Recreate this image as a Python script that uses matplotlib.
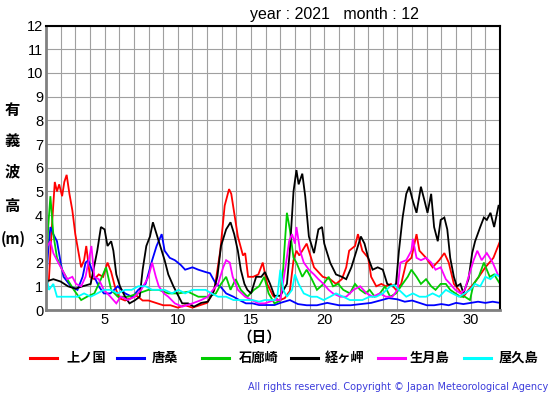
import numpy as np
import matplotlib
matplotlib.use("Agg")
import matplotlib.pyplot as plt
from matplotlib.lines import Line2D

# ---- data (day of month, significant wave height m) ----
stations = ["上ノ国", "唐桑", "石廊崎", "経ヶ岬", "生月島", "屋久島"]
colors = ["#ff0000", "#0000ff", "#00cc00", "#000000", "#ff00ff", "#00ffff"]

red_pts = [(1.0,1.0),(1.2,1.3),(1.4,3.5),(1.6,5.4),(1.75,5.0),(1.9,5.3),(2.1,4.8),(2.25,5.4),(2.41,5.7),
           (2.6,4.9),(2.8,4.2),(3.0,3.2),(3.2,2.5),(3.4,1.8),(3.6,2.1),(3.75,2.7),(4.0,1.4),(4.3,1.3),
           (4.6,1.5),(4.9,1.4),(5.2,2.0),(5.45,1.6),(5.7,1.0),(6.0,0.5),(6.4,0.4),(6.8,0.5),(7.2,0.6),
           (7.6,0.4),(8.0,0.4),(8.5,0.3),(9.0,0.2),(9.5,0.2),(10.0,0.1),(10.5,0.2),(11.0,0.1),(11.5,0.2),
           (12.0,0.3),(12.5,0.85),(12.9,2.5),(13.2,4.4),(13.5,5.1),(13.65,4.9),(13.9,3.9),(14.1,3.1),
           (14.45,2.3),(14.6,2.4),(14.8,1.4),(15.15,1.4),(15.5,1.5),(15.8,2.0),(16.1,1.1),(16.5,0.6),
           (16.9,0.4),(17.3,0.5),(17.65,0.8),(17.9,2.1),(18.1,2.5),(18.3,2.3),(18.5,2.5),(18.8,2.8),
           (19.3,1.8),(19.9,1.4),(20.4,1.3),(20.8,1.1),(21.2,1.3),(21.5,1.8),(21.7,2.5),(22.1,2.7),
           (22.3,3.2),(22.6,2.5),(23.0,2.2),(23.2,1.4),(23.55,1.0),(23.9,1.1),(24.2,1.0),(24.55,1.1),
           (24.9,0.85),(25.25,1.1),(25.6,2.0),(25.95,2.2),(26.3,3.2),(26.5,2.5),(26.95,2.2),(27.4,1.8),
           (27.85,2.1),(28.2,2.4),(28.5,2.0),(28.85,1.1),(29.2,0.85),(29.5,0.56),(29.85,0.85),(30.2,1.1),
           (30.55,1.4),(31.0,1.8),(31.55,2.2),(32.0,2.9)]

blue_pts = [(1.0,1.1),(1.15,2.5),(1.3,3.5),(1.5,3.2),(1.75,2.9),(2.0,2.0),(2.2,1.4),(2.45,1.2),(2.7,1.0),
            (3.15,0.85),(3.5,1.4),(3.7,2.0),(3.9,2.1),(4.3,1.4),(4.6,1.0),(4.95,0.7),(5.4,0.7),(5.9,1.0),
            (6.4,0.7),(6.9,0.55),(7.3,0.85),(7.8,1.1),(8.25,2.1),(8.55,2.7),(8.9,3.2),(9.1,2.5),(9.45,2.2),
            (9.8,2.1),(10.2,1.9),(10.5,1.7),(11.0,1.8),(11.4,1.7),(11.9,1.6),(12.2,1.55),(12.6,1.1),
            (12.9,1.0),(13.3,0.7),(13.8,0.56),(14.2,0.42),(14.65,0.28),(15.1,0.28),(15.55,0.21),(16.0,0.21),
            (16.6,0.21),(17.0,0.3),(17.65,0.42),(18.2,0.25),(18.8,0.2),(19.5,0.2),(20.2,0.3),(21.0,0.2),
            (21.8,0.2),(22.5,0.25),(23.2,0.3),(23.8,0.4),(24.4,0.5),(25.0,0.45),(25.5,0.35),(26.0,0.4),
            (26.5,0.3),(27.0,0.2),(27.5,0.2),(28.0,0.25),(28.5,0.2),(29.0,0.3),(29.5,0.25),(30.0,0.3),
            (30.5,0.35),(31.0,0.3),(31.5,0.35),(32.0,0.3)]

green_pts = [(1.0,1.5),(1.15,3.5),(1.3,4.8),(1.5,3.2),(1.75,2.2),(2.1,1.7),(2.45,1.3),(2.9,0.85),(3.4,0.42),
             (3.8,0.56),(4.3,0.7),(4.75,1.3),(5.1,1.8),(5.45,0.85),(5.9,0.56),(6.6,0.56),(7.3,0.7),(8.0,0.85),
             (8.7,0.85),(9.35,0.7),(10.05,0.7),(10.7,0.77),(11.4,0.56),(12.1,0.56),(12.6,0.7),(12.95,1.1),
             (13.3,1.4),(13.6,0.85),(13.95,1.3),(14.3,0.85),(14.75,0.56),(15.2,0.85),(15.55,1.0),(15.9,1.4),
             (16.2,0.7),(16.6,0.28),(17.0,0.4),(17.2,1.8),(17.35,3.2),(17.45,4.1),(17.65,3.4),(17.9,2.2),
             (18.1,2.0),(18.5,1.4),(18.8,1.7),(19.15,1.3),(19.5,0.85),(19.95,1.1),(20.3,1.4),(20.6,1.0),
             (20.95,1.1),(21.3,0.85),(21.75,0.7),(22.1,1.1),(22.45,0.85),(22.8,0.7),(23.1,0.85),(23.45,0.56),
             (23.8,0.7),(24.15,1.0),(24.5,0.56),(24.9,0.7),(25.35,1.1),(25.7,1.4),(25.95,1.7),(26.3,1.4),
             (26.6,1.1),(26.95,1.3),(27.3,1.0),(27.6,0.85),(27.95,1.1),(28.3,1.1),(28.6,0.85),(28.95,0.7),
             (29.3,0.56),(29.6,0.56),(29.95,0.42),(30.2,1.1),(30.55,1.4),(30.9,2.0),(31.3,1.4),(31.6,1.5),
             (32.0,1.1)]

black_pts = [(1.0,1.2),(1.5,1.3),(2.0,1.2),(2.5,1.0),(3.0,0.9),(3.5,1.0),(4.05,1.1),(4.5,2.5),(4.75,3.5),
             (5.0,3.4),(5.2,2.7),(5.45,2.9),(5.6,2.5),(5.8,1.5),(6.05,1.0),(6.4,0.56),(6.7,0.28),(7.05,0.4),
             (7.4,0.56),(7.6,1.7),(7.85,2.7),(8.1,3.1),(8.3,3.7),(8.55,3.2),(8.8,2.7),(9.1,2.1),(9.35,1.5),
             (9.7,1.0),(9.95,0.7),(10.3,0.28),(10.7,0.28),(11.1,0.14),(11.6,0.3),(12.05,0.35),(12.4,0.7),
             (12.7,1.4),(12.95,2.7),(13.3,3.4),(13.6,3.7),(13.85,3.2),(14.1,2.5),(14.3,1.7),(14.55,1.1),
             (14.75,0.85),(15.0,0.7),(15.35,1.4),(15.7,1.4),(15.95,1.6),(16.3,1.1),(16.6,0.6),(17.0,0.6),
             (17.45,1.1),(17.65,2.5),(17.9,5.0),(18.1,5.9),(18.25,5.3),(18.5,5.75),(18.7,4.8),(18.95,3.1),
             (19.3,2.4),(19.6,3.4),(19.85,3.5),(20.0,2.8),(20.4,2.0),(20.8,1.5),(21.2,1.4),(21.5,1.3),
             (21.85,1.8),(22.2,2.5),(22.5,3.1),(22.75,2.8),(23.0,2.2),(23.3,1.7),(23.65,1.8),(24.0,1.7),
             (24.3,1.1),(24.65,1.0),(24.9,1.1),(25.1,2.5),(25.35,3.9),(25.6,4.9),(25.8,5.2),(26.05,4.6),
             (26.3,4.1),(26.6,5.2),(26.85,4.6),(27.05,4.1),(27.3,4.9),(27.5,3.5),(27.75,2.9),(27.95,3.8),
             (28.2,3.9),(28.4,3.4),(28.6,2.2),(28.85,1.4),(29.05,1.0),(29.3,1.1),(29.5,0.7),(29.85,1.3),
             (30.1,2.4),(30.3,2.9),(30.65,3.5),(30.9,3.9),(31.1,3.8),(31.35,4.1),(31.6,3.5),(31.9,4.4),
             (32.0,4.4)]

magenta_pts = [(1.0,2.2),(1.1,2.7),(1.3,2.9),(1.5,2.4),(1.75,2.1),(2.1,1.7),(2.45,1.3),(2.8,1.4),(3.05,1.1),
               (3.4,1.0),(3.7,1.4),(3.95,2.2),(4.1,2.7),(4.3,1.4),(4.6,1.3),(4.95,0.85),(5.4,0.56),(5.8,0.28),
               (6.1,0.56),(6.6,0.42),(7.05,0.56),(7.5,0.85),(8.0,1.4),(8.25,2.0),(8.5,1.4),(8.7,1.0),(9.05,0.7),
               (9.35,0.56),(9.8,0.28),(10.3,0.14),(11.0,0.28),(11.6,0.42),(12.05,0.56),(12.4,0.85),(12.75,1.1),
               (13.1,1.8),(13.3,2.1),(13.55,2.0),(13.75,1.4),(14.1,0.85),(14.6,0.56),(15.05,0.42),(15.5,0.28),
               (15.95,0.28),(16.6,0.42),(17.0,0.42),(17.35,1.8),(17.6,2.9),(17.8,3.2),(18.0,2.8),(18.1,3.5),
               (18.35,2.5),(18.6,2.0),(18.95,1.7),(19.3,1.5),(19.6,1.3),(19.95,1.1),(20.3,0.85),(20.6,0.7),
               (21.1,0.56),(21.5,0.56),(22.0,0.85),(22.45,1.0),(22.9,0.7),(23.3,0.56),(23.8,0.7),(24.2,0.56),
               (24.65,0.56),(25.0,0.85),(25.2,2.0),(25.6,2.1),(25.95,2.5),(26.05,3.0),(26.3,2.2),(26.6,2.1),
               (26.95,2.2),(27.3,2.0),(27.6,1.7),(27.95,1.8),(28.3,1.3),(28.6,1.1),(28.95,0.85),(29.3,0.7),
               (29.6,0.85),(29.85,1.4),(30.2,2.1),(30.45,2.5),(30.75,2.1),(31.1,2.4),(31.5,2.0),(31.85,1.5),
               (32.0,1.4)]

cyan_pts = [(1.0,1.5),(1.2,0.85),(1.5,1.1),(1.75,0.56),(2.2,0.56),(2.7,0.56),(3.15,0.56),(3.6,0.7),(4.05,0.56),
            (4.5,0.7),(4.95,0.85),(5.4,0.85),(5.9,0.7),(6.4,0.85),(6.85,0.85),(7.3,1.0),(7.8,1.0),(8.25,0.85),
            (8.7,0.85),(9.1,0.85),(9.6,0.7),(10.05,0.85),(10.5,0.7),(11.0,0.85),(11.4,0.85),(11.9,0.85),
            (12.3,0.7),(12.75,0.56),(13.3,0.56),(13.8,0.42),(14.2,0.42),(14.6,0.42),(15.1,0.42),(15.55,0.35),
            (15.95,0.42),(16.6,0.42),(16.8,0.6),(17.0,1.7),(17.2,0.85),(17.45,0.56),(17.8,0.85),(18.0,1.5),
            (18.25,1.1),(18.6,0.7),(19.1,0.56),(19.5,0.56),(19.95,0.42),(20.4,0.56),(20.8,0.7),(21.3,0.56),
            (21.75,0.42),(22.2,0.42),(22.6,0.42),(23.1,0.56),(23.55,0.56),(24.0,0.7),(24.5,1.0),(24.8,1.05),
            (25.1,0.85),(25.6,0.56),(26.05,0.7),(26.5,0.56),(26.95,0.56),(27.4,0.7),(27.85,0.56),(28.3,0.85),
            (28.75,0.7),(29.2,0.56),(29.6,0.7),(29.95,0.85),(30.3,1.1),(30.65,1.0),(31.0,1.4),(31.35,1.3),
            (31.7,1.5),(32.0,1.4)]

series = [red_pts, blue_pts, green_pts, black_pts, magenta_pts, cyan_pts]
x_ticks = [5, 10, 15, 20, 25, 30]
y_ticks = list(range(0, 13))
title = "year : 2021   month : 12"

W, H = 555, 395
fig = plt.figure(figsize=(W / 100, H / 100), dpi=100)
ax = fig.add_axes([46 / W, 1 - 310 / H, 454 / W, 284.5 / H])

for pts, c in zip(series, colors):
    arr = np.array(pts)
    ax.plot(arr[:, 0], arr[:, 1], color=c, lw=1.3, solid_joinstyle="miter")

ax.set_xlim(1, 32)
ax.set_ylim(0, 12)
ax.set_xticks(x_ticks)
ax.set_xticks(range(1, 33), minor=True)
ax.set_yticks(y_ticks)
ax.grid(True, which="both", color="#a0a0a0", lw=0.8)
ax.set_axisbelow(True)
ax.tick_params(which="both", length=0, pad=2, labelsize=10.5)
for lab in ax.get_xticklabels() + ax.get_yticklabels():
    lab.set_fontfamily("Liberation Sans")
for s in ["left", "bottom"]:
    ax.spines[s].set_color("#808080")
    ax.spines[s].set_linewidth(2)
for s in ["top", "right"]:
    ax.spines[s].set_color("#000000")
    ax.spines[s].set_linewidth(1.5)

jp = ["Noto Sans CJK JP", "DejaVu Sans"]

fig.text(334 / W, 1 - 14 / H, title, ha="center", va="center",
         fontsize=11.5, family="Liberation Sans")

for ch, yy in zip(["有", "義", "波", "高"], [110, 141, 171, 206]):
    fig.text(12 / W, 1 - yy / H, ch, ha="center", va="center", fontsize=11,
             family=jp, weight="bold")
fig.text(13 / W, 1 - 239 / H, "(m)", ha="center", va="center", fontsize=10.5,
         family=jp, weight="bold")

fig.text(259 / W, 1 - 337 / H, "（日）", ha="center", va="center", fontsize=10.5,
         family=jp, weight="bold")

# legend row
line_x = [30, 117, 202, 291, 378, 464]
text_x = [66, 152, 239, 325, 410, 499]
ly = 1 - 358 / H
for i, (name, c) in enumerate(zip(stations, colors)):
    fig.add_artist(Line2D([line_x[i] / W, (line_x[i] + 27) / W], [ly, ly],
                          transform=fig.transFigure, color=c, lw=2.2))
    fig.text(text_x[i] / W, ly, name, ha="left", va="center", fontsize=9.5,
             family=jp, weight="bold")

fig.text(548 / W, 1 - 387 / H,
         "All rights reserved. Copyright © Japan Meteorological Agency",
         ha="right", va="center", fontsize=7, color="#3c3cdc", family="DejaVu Sans")

fig.savefig("out.png", dpi=100)
